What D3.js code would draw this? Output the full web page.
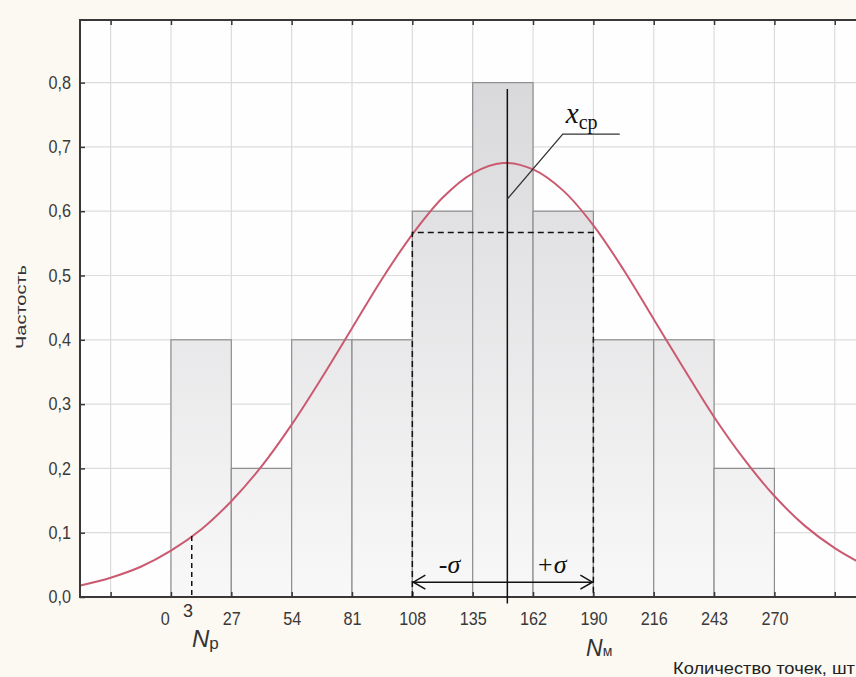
<!DOCTYPE html>
<html><head><meta charset="utf-8">
<script src="https://cdn.jsdelivr.net/npm/d3@7"></script>
<style>
html,body{margin:0;padding:0;background:#fcf9f3;}
svg{display:block;}
</style></head>
<body>
<svg id="c" width="856" height="677"></svg>
<script>
// ---- data ----
const binEdges = [0, 27, 54, 81, 108, 135, 162, 189, 216, 243, 270];
const binFreq  = [0.4, 0.2, 0.4, 0.4, 0.6, 0.8, 0.6, 0.4, 0.4, 0.2];
const xTickValues = [-27, 0, 27, 54, 81, 108, 135, 162, 189, 216, 243, 270, 297];
const xTickLabels = ["", "0", "27", "54", "81", "108", "135", "162", "190", "216", "243", "270", ""];
const yTickValues = [0, 0.1, 0.2, 0.3, 0.4, 0.5, 0.6, 0.7, 0.8];
const yTickLabels = ["0,0", "0,1", "0,2", "0,3", "0,4", "0,5", "0,6", "0,7", "0,8"];
const curveX = [-40.5, -27, -13.5, 0, 13.5, 27, 40.5, 54, 67.5, 81, 94.5, 108, 121.5, 135, 148.5, 162, 175.5, 189, 202.5, 216, 229.5, 243, 256.5, 270, 283.5, 297, 310];
const curveY = [0.018, 0.030, 0.047, 0.072, 0.105, 0.149, 0.203, 0.268, 0.341, 0.418, 0.495, 0.564, 0.621, 0.659, 0.675, 0.665, 0.632, 0.578, 0.509, 0.432, 0.355, 0.280, 0.214, 0.157, 0.111, 0.076, 0.050];
const meanX = 150.5;
const sigmaRange = [108, 189];
const sigmaLevel = 0.567;
const npX = 9.3, npY = 0.095, npLabel = "3";

const svg = d3.select("#c");
const L = 80, T = 20, R = 856, B = 597;
const x = d3.scaleLinear().domain([-40.7, 306.5]).range([L, R]);
const y = d3.scaleLinear().domain([0, 0.9]).range([B, B - 0.9 * 643]);
const sans = "Liberation Sans, Arial, sans-serif";
const serif = "Liberation Serif, Times New Roman, serif";

// plot background
svg.append("rect").attr("x", L).attr("y", T).attr("width", R - L).attr("height", B - T).attr("fill", "#fefefe");

// gradient for bars
const defs = svg.append("defs");
const g = defs.append("linearGradient").attr("id", "barg").attr("gradientUnits", "userSpaceOnUse")
  .attr("x1", 0).attr("x2", 0).attr("y1", y(0.8)).attr("y2", y(0));
g.append("stop").attr("offset", "0").attr("stop-color", "#d9d9db");
g.append("stop").attr("offset", "1").attr("stop-color", "#f8f8f9");

// gridlines
svg.append("g").selectAll("line").data(yTickValues.slice(1)).join("line")
  .attr("x1", L).attr("x2", R).attr("y1", d => y(d)).attr("y2", d => y(d))
  .attr("stroke", "#dcdcdc").attr("stroke-width", 1.2);
svg.append("g").selectAll("line").data(xTickValues).join("line")
  .attr("x1", d => x(d)).attr("x2", d => x(d)).attr("y1", T).attr("y2", B)
  .attr("stroke", "#dcdcdc").attr("stroke-width", 1.2);

// bars
svg.append("g").selectAll("rect").data(binFreq).join("rect")
  .attr("x", (d, i) => x(binEdges[i]))
  .attr("width", (d, i) => x(binEdges[i + 1]) - x(binEdges[i]))
  .attr("y", d => y(d)).attr("height", d => y(0) - y(d))
  .attr("fill", "url(#barg)").attr("stroke", "#8e8e90").attr("stroke-width", 1.2);

// normal curve
svg.append("path").datum(curveX.map((v, i) => [v, curveY[i]]))
  .attr("d", d3.line().x(d => x(d[0])).y(d => y(d[1])).curve(d3.curveCatmullRom))
  .attr("fill", "none").attr("stroke", "#cb5a70").attr("stroke-width", 2);

// axes frame
const ink = "#383838";
svg.append("line").attr("x1", L).attr("x2", L).attr("y1", T - 1).attr("y2", B + 1).attr("stroke", ink).attr("stroke-width", 2);
svg.append("line").attr("x1", L).attr("x2", R).attr("y1", B).attr("y2", B).attr("stroke", ink).attr("stroke-width", 2);
svg.append("line").attr("x1", L).attr("x2", R).attr("y1", T).attr("y2", T).attr("stroke", ink).attr("stroke-width", 2);

// x axis (bottom) with inward ticks
const xAxis = d3.axisBottom(x).tickValues(xTickValues).tickSize(-5).tickPadding(15)
  .tickFormat((d, i) => xTickLabels[i]);
const gx = svg.append("g").attr("transform", `translate(0,${B})`).call(xAxis);
gx.select(".domain").remove();
gx.selectAll(".tick line").attr("stroke", ink).attr("stroke-width", 1.5);
gx.selectAll(".tick text").attr("font-family", sans).attr("font-size", 18).attr("fill", "#3a3a3a")
  .attr("transform", "scale(0.9,1)")
  .attr("dx", d => d === 0 ? -7 : 0);

// top ticks
const xTop = d3.axisTop(x).tickValues(xTickValues).tickSize(-5).tickFormat("");
const gt = svg.append("g").attr("transform", `translate(0,${T})`).call(xTop);
gt.select(".domain").remove();
gt.selectAll(".tick line").attr("stroke", ink).attr("stroke-width", 1.5);

// y axis
const yAxis = d3.axisLeft(y).tickValues(yTickValues).tickSize(-5).tickPadding(10)
  .tickFormat((d, i) => yTickLabels[i]);
const gy = svg.append("g").attr("transform", `translate(${L},0)`).call(yAxis);
gy.select(".domain").remove();
gy.selectAll(".tick line").attr("stroke", ink).attr("stroke-width", 1.5);
gy.selectAll(".tick text").attr("font-family", sans).attr("font-size", 18).attr("fill", "#3a3a3a")
  .attr("transform", "scale(0.9,1)");

// y title
svg.append("text").attr("transform", `translate(21,307) rotate(-90) scale(1,0.75)`).attr("text-anchor", "middle")
  .attr("dy", "0.35em")
  .attr("font-family", sans).attr("font-size", 20).attr("fill", "#333")
  .text("Частость");

// x title
svg.append("text").attr("x", 673).attr("y", 674)
  .attr("textLength", 182).attr("lengthAdjust", "spacingAndGlyphs")
  .attr("font-family", sans).attr("font-size", 16.5).attr("fill", "#222")
  .text("Количество точек, шт");

// sigma dashed box
const sg = svg.append("g").attr("stroke", "#111").attr("stroke-width", 1.5).attr("stroke-dasharray", "6,4").attr("fill", "none");
sg.append("path").attr("d", `M${x(sigmaRange[0])},${y(0)}V${y(sigmaLevel)}H${x(sigmaRange[1])}V${y(0)}`);

// Np dashed line
svg.append("line").attr("x1", x(npX)).attr("x2", x(npX)).attr("y1", y(npY)).attr("y2", y(0))
  .attr("stroke", "#111").attr("stroke-width", 1.5).attr("stroke-dasharray", "5,4");

// mean line
svg.append("line").attr("x1", x(meanX)).attr("x2", x(meanX)).attr("y1", y(0.79)).attr("y2", y(-0.01))
  .attr("stroke", "#111").attr("stroke-width", 1.5);

// leader to x_cp
const ex = 175.3, ey = 0.72, endX = 200.8;
svg.append("path").attr("d", `M${x(meanX)},${y(0.619)}L${x(ex)},${y(ey)}H${x(endX)}`)
  .attr("fill", "none").attr("stroke", "#333").attr("stroke-width", 1.3);
const xl = svg.append("text").attr("x", x(ex) + 3).attr("y", y(ey) - 11)
  .attr("font-family", serif).attr("fill", "#111");
xl.append("tspan").attr("font-size", 29).attr("font-style", "italic").text("x");
xl.append("tspan").attr("font-size", 20).attr("dy", 6).text("ср");

// sigma arrow
const ax1 = x(sigmaRange[0]), ax2 = x(sigmaRange[1]), ayp = y(0.023);
const ag = svg.append("g").attr("stroke", "#111").attr("stroke-width", 1.5).attr("fill", "none");
ag.append("line").attr("x1", ax1).attr("x2", ax2).attr("y1", ayp).attr("y2", ayp);
ag.append("path").attr("d", `M${ax1 + 13},${ayp - 7}L${ax1 + 1},${ayp}L${ax1 + 13},${ayp + 7}`);
ag.append("path").attr("d", `M${ax2 - 13},${ayp - 7}L${ax2 - 1},${ayp}L${ax2 - 13},${ayp + 7}`);

svg.append("text").attr("x", 449.5).attr("y", 573).attr("text-anchor", "middle")
  .attr("font-family", serif).attr("font-style", "italic").attr("font-size", 26).attr("fill", "#111")
  .text("-σ");
svg.append("text").attr("x", 551.5).attr("y", 573).attr("text-anchor", "middle")
  .attr("font-family", serif).attr("font-style", "italic").attr("font-size", 26).attr("fill", "#111")
  .text("+σ");

// Np label and "3"
svg.append("text").attr("x", 188).attr("y", 617).attr("text-anchor", "middle")
  .attr("font-family", sans).attr("font-size", 18).attr("fill", "#333").text(npLabel);
const npl = svg.append("text").attr("x", 192).attr("y", 647)
  .attr("font-family", sans).attr("fill", "#333");
npl.append("tspan").attr("font-size", 24).attr("font-style", "italic").text("N");
npl.append("tspan").attr("font-size", 17).attr("dy", 2).text("р");

const nml = svg.append("text").attr("x", 586).attr("y", 656)
  .attr("font-family", sans).attr("fill", "#333");
nml.append("tspan").attr("font-size", 23).attr("font-style", "italic").text("N");
nml.append("tspan").attr("font-size", 14).text("м");
</script>
</body></html>
